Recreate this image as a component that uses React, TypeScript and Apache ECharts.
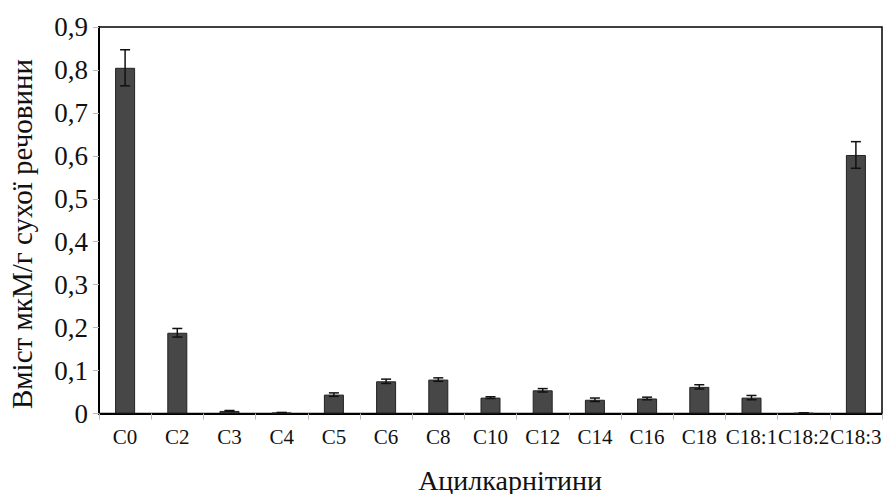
import React, { useEffect, useRef } from "react";
import * as echarts from "echarts";

const categories = ["C0", "C2", "C3", "C4", "C5", "C6", "C8", "C10", "C12", "C14", "C16", "C18", "C18:1", "C18:2", "C18:3"];
const values = [0.805, 0.188, 0.006, 0.002, 0.044, 0.075, 0.079, 0.037, 0.054, 0.032, 0.035, 0.062, 0.037, 0.001, 0.602];
const errors = [0.042, 0.01, 0.001, 0.0005, 0.004, 0.005, 0.004, 0.002, 0.004, 0.004, 0.003, 0.005, 0.005, 0.0005, 0.031];
const yTicks = [0, 0.1, 0.2, 0.3, 0.4, 0.5, 0.6, 0.7, 0.8, 0.9];

export default function App() {
  const ref = useRef<HTMLDivElement>(null);
  useEffect(() => {
    if (!ref.current) return;
    const chart = echarts.init(ref.current, null, { renderer: "svg" });
    const serif = "Liberation Serif";
    chart.setOption({
      animation: false,
      backgroundColor: "#fff",
      textStyle: { fontFamily: serif },
      grid: { left: 99, right: 5, top: 27, bottom: 80.5, show: true, borderColor: "#000", borderWidth: 1.5, backgroundColor: "transparent" },
      xAxis: {
        type: "category",
        data: categories,
        axisLine: { lineStyle: { color: "#000", width: 2 } },
        axisTick: { show: true, length: 6, lineStyle: { color: "#bbb" } },
        axisLabel: { color: "#111", fontFamily: serif, fontSize: 21, margin: 13, interval: 0 },
      },
      yAxis: {
        type: "value",
        min: 0,
        max: 0.9,
        interval: 0.1,
        splitLine: { show: false },
        axisLine: { show: true, lineStyle: { color: "#000", width: 2 } },
        axisTick: { show: true, length: 6, lineStyle: { color: "#bbb" } },
        axisLabel: {
          color: "#111",
          fontFamily: serif,
          fontSize: 27,
          margin: 11,
          formatter: (v: number) => {
            const t = yTicks.find((x) => Math.abs(x - v) < 1e-9);
            return t === 0 ? "0" : (t ?? v).toFixed(1).replace(".", ",");
          },
        },
      },
      graphic: [
        {
          type: "text",
          x: 22,
          y: 234,
          rotation: Math.PI / 2,
          style: { text: "Вміст мкМ/г сухої речовини", fontFamily: serif, fontSize: 29, fill: "#111", align: "center", verticalAlign: "middle" },
        },
        {
          type: "text",
          x: 510,
          y: 480,
          style: { text: "Ацилкарнітини", fontFamily: serif, fontSize: 28, fill: "#111", align: "center", verticalAlign: "middle" },
        },
      ],
      series: [
        {
          type: "bar",
          data: values,
          barWidth: 20,
          itemStyle: { color: "#474747", borderColor: "#222", borderWidth: 1 },
        },
        {
          type: "custom",
          data: values.map((v, i) => [i, v - errors[i], v + errors[i]]),
          z: 10,
          renderItem: (params: any, api: any) => {
            const x = api.coord([api.value(0), 0])[0];
            const lo = api.coord([api.value(0), api.value(1)])[1];
            const hi = api.coord([api.value(0), api.value(2)])[1];
            const hw = 5;
            const style = { stroke: "#111", lineWidth: 1.5 };
            return {
              type: "group",
              children: [
                { type: "line", shape: { x1: x, y1: lo, x2: x, y2: hi }, style },
                { type: "line", shape: { x1: x - hw, y1: hi, x2: x + hw, y2: hi }, style },
                { type: "line", shape: { x1: x - hw, y1: lo, x2: x + hw, y2: lo }, style },
              ],
            };
          },
        },
      ],
    });
    return () => chart.dispose();
  }, []);
  return <div ref={ref} style={{ width: 887, height: 494, position: "absolute", left: 0, top: 0 }} />;
}
